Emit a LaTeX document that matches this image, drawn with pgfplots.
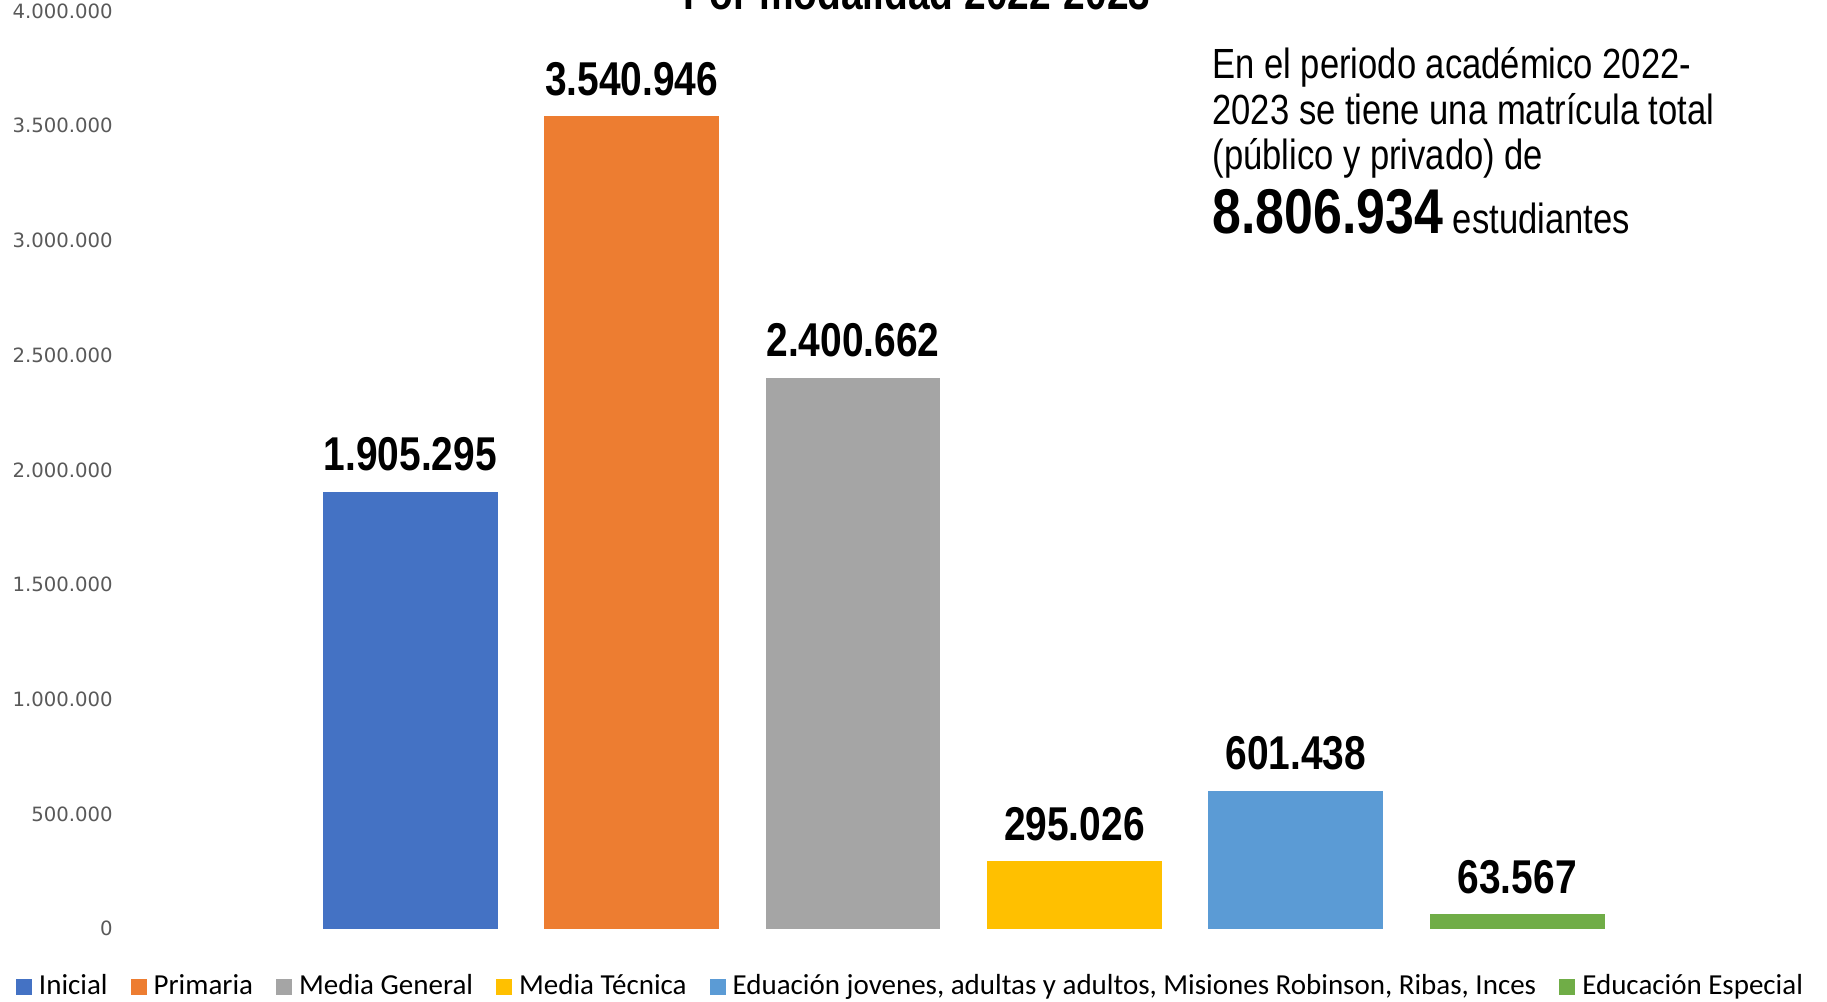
\documentclass[border=0pt]{standalone}
\usepackage{pgfplots}
\pgfplotsset{compat=1.18}
\usepackage{fontspec}
\setmainfont{Liberation Sans}
\newfontfamily\narrow{Liberation Sans}[FakeStretch=0.82]
\newfontfamily\legfont{Carlito}
\newfontfamily\tickfont{DejaVu Sans}
\definecolor{cIni}{HTML}{4472C4}
\definecolor{cPri}{HTML}{ED7D31}
\definecolor{cMG}{HTML}{A5A5A5}
\definecolor{cMT}{HTML}{FFC000}
\definecolor{cEJ}{HTML}{5B9BD5}
\definecolor{cEE}{HTML}{70AD47}
\definecolor{tickgray}{HTML}{595959}
\begin{document}
\begin{tikzpicture}
\begin{axis}[
    scale only axis,
    width=16.826cm, height=9.176cm,
    xmin=-1.3, xmax=6.3, ymin=0, ymax=4000000,
    axis line style={draw=none},
    major tick length=0pt,
    xtick=\empty,
    ytick={0,500000,1000000,1500000,2000000,2500000,3000000,3500000,4000000},
    yticklabels={0,500.000,1.000.000,1.500.000,2.000.000,2.500.000,3.000.000,3.500.000,4.000.000},
    yticklabel style={font=\tickfont\fontsize{5.6}{6}\selectfont, text=tickgray,
      anchor=east, inner sep=0pt, xshift=-0.09cm},
    point meta=explicit symbolic,
    nodes near coords,
    every node near coord/.append style={font=\narrow\bfseries\fontsize{13.5}{15}\selectfont,
      anchor=base, inner sep=0pt, yshift=0.21cm, text=black},
    legend columns=-1,
    legend style={draw=none, fill=none,
      at={(axis description cs:0.5,0)}, anchor=center,
      xshift=-0.507cm, yshift=-0.583cm,
      font=\legfont\fontsize{8.25}{10}\selectfont,
      nodes={inner xsep=0.07cm, inner ysep=0pt},
      /tikz/every even column/.append style={column sep=0.16cm}},
    legend image code/.code={\fill[#1] (0cm,-0.08cm) rectangle (0.16cm,0.08cm);},
  ]
\addplot[ybar, bar width=1.748cm, bar shift=0pt, fill=cIni, draw=none] coordinates {(0,1905295) [1.905.295]};
\addplot[ybar, bar width=1.748cm, bar shift=0pt, fill=cPri, draw=none] coordinates {(1,3540946) [3.540.946]};
\addplot[ybar, bar width=1.748cm, bar shift=0pt, fill=cMG, draw=none] coordinates {(2,2400662) [2.400.662]};
\addplot[ybar, bar width=1.748cm, bar shift=0pt, fill=cMT, draw=none] coordinates {(3,295026) [295.026]};
\addplot[ybar, bar width=1.748cm, bar shift=0pt, fill=cEJ, draw=none] coordinates {(4,601438) [601.438]};
\addplot[ybar, bar width=1.748cm, bar shift=0pt, fill=cEE, draw=none] coordinates {(5,63567) [63.567]};
\legend{Inicial, Primaria, Media General, Media Técnica, {Eduación jovenes, adultas y adultos, Misiones Robinson, Ribas, Inces}, Educación Especial}
\end{axis}
% title, cut by the top edge as in the original
\node[anchor=base, inner sep=0pt, font=\narrow\bfseries\fontsize{13.5}{15}\selectfont]
  at (7.946cm,9.187cm) {Por modalidad 2022-2023};
% annotation
\begin{scope}[every node/.style={anchor=base west, inner sep=0pt, font=\narrow\fontsize{12}{14}\selectfont}]
\node at (10.894cm,8.497cm) {En el periodo académico 2022-};
\node at (10.894cm,8.037cm) {2023 se tiene una matrícula total};
\node at (10.894cm,7.587cm) {(público y privado) de};
\node at (10.894cm,6.95cm) {{\bfseries\fontsize{18}{20}\selectfont 8.806.934} estudiantes};
\end{scope}
\pgfresetboundingbox
\path (-1.224cm,-0.733cm) rectangle (17.046cm,9.287cm);
\end{tikzpicture}
\end{document}
